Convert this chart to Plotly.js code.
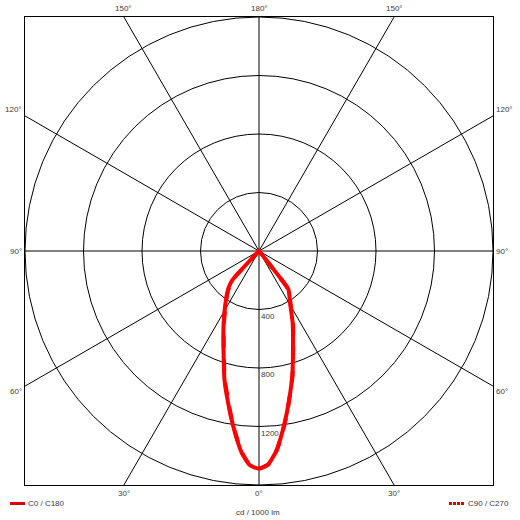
<!DOCTYPE html>
<html>
<head>
<meta charset="utf-8">
<script src="https://cdn.plot.ly/plotly-3.0.1.min.js"></script>
<style>
  html, body { margin: 0; padding: 0; background: #fff; }
  #chart { width: 520px; height: 520px; }
</style>
</head>
<body>
<div id="chart"></div>
<script>
///////////////////////////////////////////////////////////////////////////////
// photometric data, cd / 1000 lm, gamma measured from nadir
const gamma   = [0, 2.5, 5, 7.5, 10, 15, 20, 25, 30, 35, 37.5, 40, 42.5, 45, 50, 60, 90, 120, 150, 180];
const c0      = [1488, 1460, 1370, 1240, 1110, 880, 680, 545, 430, 360, 330, 0, 0, 0, 0, 0, 0, 0, 0, 0];
const c180    = [1488, 1465, 1380, 1255, 1130, 912, 710, 575, 470, 390, 355, 320, 270, 0, 0, 0, 0, 0, 0, 0];
const c90     = [1488, 1462, 1372, 1245, 1115, 885, 685, 550, 435, 362, 332, 0, 0, 0, 0, 0, 0, 0, 0, 0];
const c270    = [1488, 1463, 1378, 1250, 1125, 905, 705, 570, 465, 385, 350, 315, 265, 0, 0, 0, 0, 0, 0, 0];

const rings       = [400, 800, 1200, 1600];
const ringLabels  = ['400', '800', '1200'];
const spokeAngles = [0, 30, 60, 90, 120, 150, 180, 210, 240, 270, 300, 330];
const sideLabels  = ['30°', '60°', '90°', '120°', '150°'];
const legendNames = ['C0 / C180', 'C90 / C270'];
const unitLabel   = 'cd / 1000 lm';

const R = 1600;
const rad = d => d * Math.PI / 180;

// plot box in page pixels: x 25..493, y 17..485
const px = x => (x - 25) / 468;
const py = y => (485 - y) / 468;

const font = {family: 'Liberation Sans, Arial, sans-serif', size: 8, color: '#3a3a3a'};

///////////////////////////////////////////////////////////////////////////////
// one C-plane pair: right half from cRight, left half from cLeft
function plane(cRight, cLeft)
{
    let xs = [];
    let ys = [];
    for(let i = gamma.length - 1; i >= 0; i--) {
        xs.push(-cLeft[i] * Math.sin(rad(gamma[i])));
        ys.push(-cLeft[i] * Math.cos(rad(gamma[i])));
    }
    for(let i = 1; i < gamma.length; i++) {
        xs.push(cRight[i] * Math.sin(rad(gamma[i])));
        ys.push(-cRight[i] * Math.cos(rad(gamma[i])));
    }
    return {xs, ys};
}

let p1 = plane(c0, c180);
let p2 = plane(c90, c270);

let traces = [
    {
        x: p2.xs, y: p2.ys, mode: 'lines', name: legendNames[1],
        line: {color: '#ff0000', width: 4, dash: 'dash', shape: 'spline', smoothing: 0.5},
        hoverinfo: 'skip'
    },
    {
        x: p1.xs, y: p1.ys, mode: 'lines', name: legendNames[0],
        line: {color: '#ff0000', width: 4, shape: 'spline', smoothing: 0.5},
        hoverinfo: 'skip'
    }
];

///////////////////////////////////////////////////////////////////////////////
let shapes = [];
rings.forEach(r => shapes.push({
    type: 'circle', xref: 'x', yref: 'y', x0: -r, x1: r, y0: -r, y1: r,
    line: {color: '#000', width: 1}, layer: 'below'
}));
spokeAngles.forEach(a => {
    let s = Math.sin(rad(a));
    let c = -Math.cos(rad(a));
    let t = R / Math.max(Math.abs(s), Math.abs(c));
    shapes.push({
        type: 'line', xref: 'x', yref: 'y', x0: 0, y0: 0, x1: t * s, y1: t * c,
        line: {color: '#000', width: 1}, layer: 'below'
    });
});
// legend keys
shapes.push({type: 'line', xref: 'paper', yref: 'paper', x0: px(10), x1: px(25), y0: py(503.5), y1: py(503.5),
    line: {color: '#dd0000', width: 3}});
shapes.push({type: 'line', xref: 'paper', yref: 'paper', x0: px(449), x1: px(465), y0: py(503.5), y1: py(503.5),
    line: {color: '#dd0000', width: 3, dash: '3px,1px'}});

///////////////////////////////////////////////////////////////////////////////
let ann = [];
const edge = R * Math.tan(rad(30));   // where the 30/60 degree spokes meet the box

// top and bottom
[[-edge, sideLabels[4]], [0, '180°'], [edge, sideLabels[4]]].forEach(([x, t]) =>
    ann.push({x: x, y: 1, xref: 'x', yref: 'paper', text: t, showarrow: false,
              yanchor: 'bottom', yshift: 2, font: font}));
[[-edge, sideLabels[0]], [0, '0°'], [edge, sideLabels[0]]].forEach(([x, t]) =>
    ann.push({x: x, y: 0, xref: 'x', yref: 'paper', text: t, showarrow: false,
              yanchor: 'top', yshift: -2, font: font}));

// sides
[[edge, sideLabels[3], 6], [0, sideLabels[2], 0], [-edge, sideLabels[1], -5]].forEach(([y, t, sh]) => {
    ann.push({x: 0, y: y, xref: 'paper', yref: 'y', text: t, showarrow: false,
              xanchor: 'right', xshift: -1, yshift: sh, font: font});
    ann.push({x: 1, y: y, xref: 'paper', yref: 'y', text: t, showarrow: false,
              xanchor: 'left', xshift: 1, yshift: sh, font: font});
});

// ring values
ringLabels.forEach((t, i) =>
    ann.push({x: 0, y: -rings[i], xref: 'x', yref: 'y', text: t, showarrow: false,
              xanchor: 'left', yanchor: 'top', xshift: 0, yshift: 0, font: font}));

// legend texts and unit
ann.push({x: px(26), y: py(503.5), xref: 'paper', yref: 'paper', text: legendNames[0], showarrow: false,
          xanchor: 'left', yanchor: 'middle', font: font});
ann.push({x: px(466), y: py(503.5), xref: 'paper', yref: 'paper', text: legendNames[1], showarrow: false,
          xanchor: 'left', yanchor: 'middle', font: font});
ann.push({x: px(258), y: py(512), xref: 'paper', yref: 'paper', text: unitLabel, showarrow: false,
          xanchor: 'center', yanchor: 'middle', font: font});

///////////////////////////////////////////////////////////////////////////////
const axisCommon = {
    range: [-R, R], showgrid: false, zeroline: false, showticklabels: false, ticks: '',
    showline: true, mirror: true, linecolor: '#000', linewidth: 1.2, fixedrange: true
};

let layout = {
    width: 520, height: 520,
    margin: {l: 25, r: 27, t: 17, b: 35, pad: 0},
    paper_bgcolor: '#fff', plot_bgcolor: '#fff',
    showlegend: false,
    xaxis: Object.assign({}, axisCommon),
    yaxis: Object.assign({}, axisCommon),
    shapes: shapes,
    annotations: ann,
    font: font
};

Plotly.newPlot('chart', traces, layout, {staticPlot: true, displayModeBar: false});
</script>
</body>
</html>
